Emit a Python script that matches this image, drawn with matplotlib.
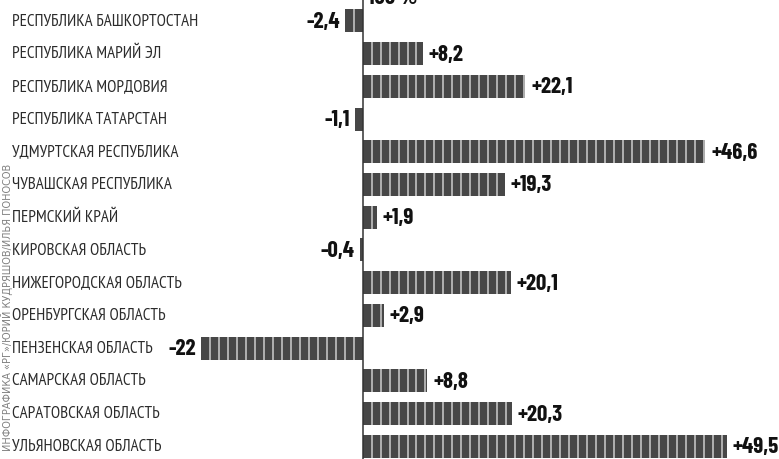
import numpy as np
import matplotlib
matplotlib.use('Agg')
import matplotlib.pyplot as plt

# Data: change, % (Volga federal district regions)
regions = [
    'РЕСПУБЛИКА БАШКОРТОСТАН', 'РЕСПУБЛИКА МАРИЙ ЭЛ', 'РЕСПУБЛИКА МОРДОВИЯ',
    'РЕСПУБЛИКА ТАТАРСТАН', 'УДМУРТСКАЯ РЕСПУБЛИКА', 'ЧУВАШСКАЯ РЕСПУБЛИКА',
    'ПЕРМСКИЙ КРАЙ', 'КИРОВСКАЯ ОБЛАСТЬ', 'НИЖЕГОРОДСКАЯ ОБЛАСТЬ',
    'ОРЕНБУРГСКАЯ ОБЛАСТЬ', 'ПЕНЗЕНСКАЯ ОБЛАСТЬ', 'САМАРСКАЯ ОБЛАСТЬ',
    'САРАТОВСКАЯ ОБЛАСТЬ', 'УЛЬЯНОВСКАЯ ОБЛАСТЬ',
]
values = [-2.4, 8.2, 22.1, -1.1, 46.6, 19.3, 1.9, -0.4, 20.1, 2.9, -22, 8.8, 20.3, 49.5]
value_labels = ['-2,4', '+8,2', '+22,1', '-1,1', '+46,6', '+19,3', '+1,9', '-0,4',
                '+20,1', '+2,9', '-22', '+8,8', '+20,3', '+49,5']
credit = 'ИНФОГРАФИКА «РГ»/ЮРИЙ КУДРЯШОВ/ИЛЬЯ ПОНОСОВ'

bar_color = '#474747'
sep_color = '#b0b0b0'
text_color = '#2b2b2b'
seg = 1.22  # width of one bar segment, in %

label_font = ['PT Sans Narrow', 'Roboto Condensed', 'DejaVu Sans']
value_font = ['Barlow Condensed', 'Roboto Condensed', 'DejaVu Sans']

fig = plt.figure(figsize=(7.79, 4.59), dpi=100)
ax = fig.add_axes([0, 0, 1, 1])
ax.set_xlim(-49.3, 56.6)
ax.set_ylim(13.39, -0.64)
ax.axis('off')

y = np.arange(len(regions))
ax.barh(y, values, height=0.70, color=bar_color, linewidth=0, zorder=2)

# light separators cutting bars into segments
for yi, v in zip(y, values):
    n = int(abs(v) // seg)
    xs = np.sign(v) * seg * np.arange(1, n + 1)
    xs = xs[np.abs(xs) < abs(v) - 0.05]
    if len(xs):
        ax.vlines(xs, yi - 0.35, yi + 0.35, color=sep_color, linewidth=1.4, zorder=3)

ax.axvline(0, color='#333333', linewidth=1.1, zorder=4)

for yi, name, v, lab in zip(y, regions, values, value_labels):
    ax.text(-47.7, yi + 0.02, name, ha='left', va='center', fontsize=12.2,
            color=text_color, family=label_font)
    if v >= 0:
        ax.text(v + 0.8, yi + 0.03, lab, ha='left', va='center', fontsize=16.5,
                fontweight='bold', color='#111111', family=value_font)
    else:
        ax.text(v - 0.7, yi + 0.03, lab, ha='right', va='center', fontsize=16.5,
                fontweight='bold', color='#111111', family=value_font)

# heading cut off at the top edge
ax.text(0.7, -0.52, '100 %', ha='left', va='baseline', fontsize=16.5,
        fontweight='bold', color='#111111', family=value_font, clip_on=False)

fig.text(0.009, 0.331, credit, rotation=90, ha='center', va='center',
         fontsize=7.0, color='#808080', family=['DejaVu Sans'])

fig.savefig('out.png', dpi=100)
